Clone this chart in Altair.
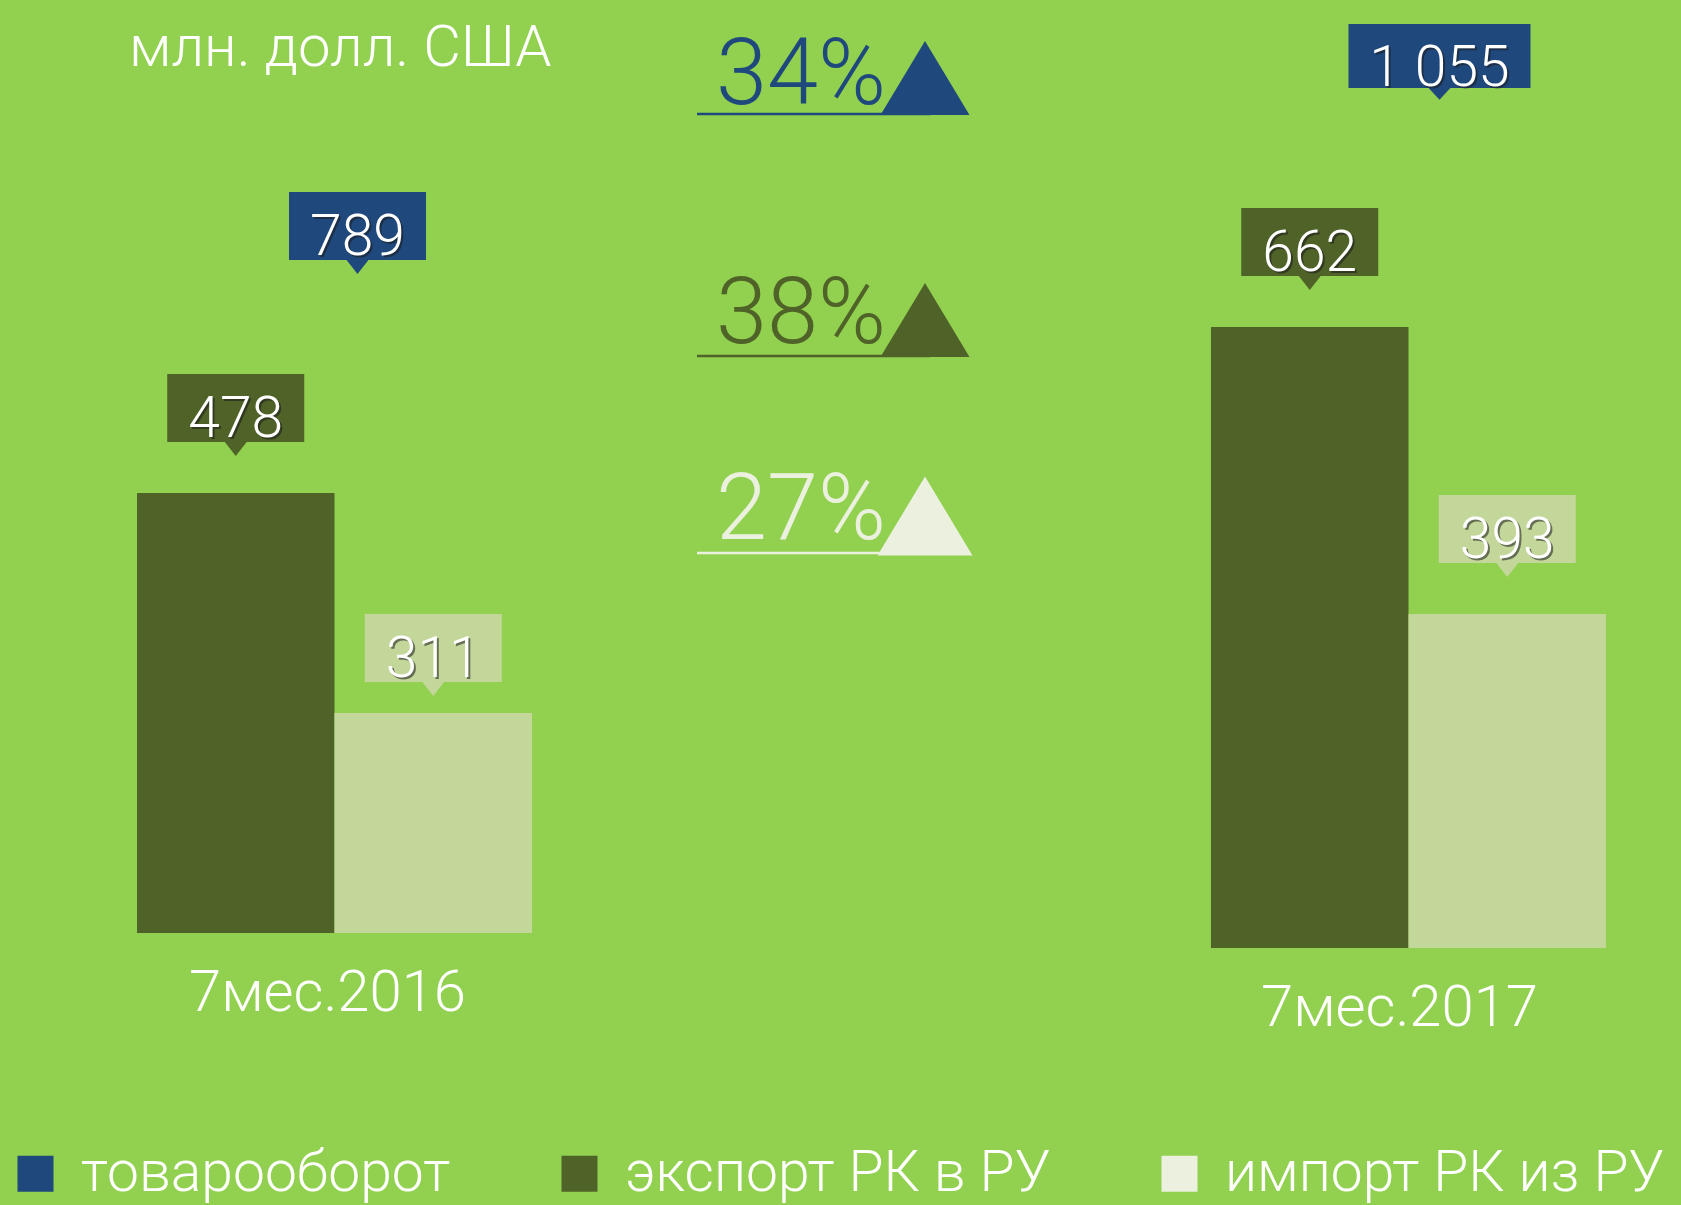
import altair as alt
import pandas as pd

# ---------------- data ----------------
groups = ["7мес.2016", "7мес.2017"]
series = ["товарооборот", "экспорт РК в РУ", "импорт РК из РУ"]
export_vals = [478, 662]
import_vals = [311, 393]
total_vals = [789, 1055]
growth_pct = [34, 38, 27]
unit_title = "млн. долл. США"

# ---------------- style ----------------
BG = "#92D050"
BLUE = "#1F497D"
DARK = "#4F6228"
LIGHT_BAR = "#C4D79B"
LIGHT = "#EBF1DE"
FONT = "Roboto"
W, H = 1681, 1205


def fmt(v):
    return f"{v:,}".replace(",", " ")


rows = []
for g, e, i in zip(groups, export_vals, import_vals):
    rows.append({"group": g, "series": series[1], "value": e, "label": fmt(e)})
    rows.append({"group": g, "series": series[2], "value": i, "label": fmt(i)})
bars_df = pd.DataFrame(rows)
totals_df = pd.DataFrame({"group": groups, "series": series[0], "value": total_vals,
                          "label": [fmt(v) for v in total_vals]})
pct_df = pd.DataFrame({"series": series, "pct": growth_pct,
                       "label": [f"{p}%" for p in growth_pct]})

x_scale = alt.Scale(domain=groups, range=[137, 1606], paddingInner=0.6322, paddingOuter=0)
xoff_scale = alt.Scale(domain=series[1:], paddingInner=0, paddingOuter=0)
fill_scale = alt.Scale(domain=series, range=[BLUE, DARK, LIGHT_BAR])
color_scale = alt.Scale(domain=series, range=[BLUE, DARK, LIGHT])

CALLOUT = "M-1,-1.737 L1,-1.737 L1,-0.745 L0.16,-0.745 L0,-0.54 L-0.16,-0.745 L-1,-0.745 Z"
TRI = "M0,-0.83 L1,0.83 L-1,0.83 Z"


def box_path(half_h, tip, tip_w):
    return (f"M-1,-{half_h} L1,-{half_h} L1,{half_h} L{tip_w},{half_h} L0,{tip} "
            f"L-{tip_w},{half_h} L-1,{half_h} Z")


def group_layer(g, y_dom, base, label_y, label_dx, total_cy, total_base, total_dx,
                total_w, total_path, shifts):
    d_all = bars_df[bars_df["group"] == g]
    t = totals_df[totals_df["group"] == g]
    ys = alt.Scale(domain=y_dom, nice=False, zero=False)
    X = alt.X("group:N", scale=x_scale, axis=None)
    XO = alt.XOffset("series:N", scale=xoff_scale)
    Y = alt.Y("value:Q", scale=ys, axis=None)
    F = alt.Fill("series:N", scale=fill_scale, legend=None)

    layers = [alt.Chart(d_all).mark_bar(opacity=1).encode(
        x=X, xOffset=XO, y=Y, y2=alt.datum(base), fill=F)]
    for s, sh in zip(series[1:], shifts):
        d = d_all[d_all["series"] == s]
        layers.append(alt.Chart(d).mark_point(shape=CALLOUT, size=137 * 137, filled=True,
                                              opacity=1, strokeWidth=0, yOffset=sh).encode(
            x=X, xOffset=XO, y=Y, fill=F))
        layers.append(alt.Chart(d).mark_text(dx=2, dy=-54 + sh, baseline="alphabetic",
                                             fontSize=57, font=FONT, fontWeight=300,
                                             color="#1a1a1a", opacity=0.55).encode(
            x=X, xOffset=XO, y=Y, text="label:N"))
        layers.append(alt.Chart(d).mark_text(dy=-56 + sh, baseline="alphabetic",
                                             fontSize=57, font=FONT, fontWeight=300,
                                             color="white").encode(
            x=X, xOffset=XO, y=Y, text="label:N"))
    layers.append(alt.Chart(t).mark_point(shape=total_path, size=total_w * total_w,
                                          filled=True, opacity=1, strokeWidth=0,
                                          xOffset=total_dx).encode(
        x=X, y=alt.value(total_cy), fill=F))
    layers.append(alt.Chart(t).mark_text(baseline="alphabetic", fontSize=57, font=FONT,
                                         fontWeight=300, color="#1a1a1a", opacity=0.55,
                                         xOffset=total_dx + 2).encode(
        x=X, y=alt.value(total_base + 2), text="label:N"))
    layers.append(alt.Chart(t).mark_text(baseline="alphabetic", fontSize=57, font=FONT,
                                         fontWeight=300, color="white",
                                         xOffset=total_dx).encode(
        x=X, y=alt.value(total_base), text="label:N"))
    layers.append(alt.Chart(t).mark_text(baseline="alphabetic", fontSize=58, font=FONT,
                                         fontWeight=300, color="white",
                                         xOffset=label_dx).encode(
        x=X, y=alt.value(label_y), text="group:N"))
    return alt.layer(*layers)


left = group_layer(groups[0], [-62.6, 852.3], 143.9, 1011, -7, 226, 255, 23, 137,
                   box_path(0.496, 0.70, 0.16), [0, 20])
right = group_layer(groups[1], [-161.0, 968.5], 79.9, 1026, -9, 56, 86, 31, 182,
                    box_path(0.352, 0.48, 0.12), [0, 0])

legend_def = alt.Legend(title=None, symbolType="square", orient="none", legendX=7,
                        legendY=1145, direction="horizontal", symbolSize=1296,
                        symbolStrokeWidth=0, labelFontSize=57, labelColor="white",
                        labelFont=FONT, labelFontWeight=300, labelLimit=0,
                        columnPadding=100, labelOffset=17, padding=0, symbolOpacity=1)

text_y = [104, 343, 539]
line_y = [114, 356, 553]
tri_y = [78, 320, 516]
tri_w = [89, 89, 95]
tris, rules, texts = [], [], []
for s, ty, ly, try_, tw in zip(series, text_y, line_y, tri_y, tri_w):
    src = alt.Chart(pct_df).transform_filter(alt.datum.series == s)
    tris.append(src.mark_point(shape=TRI, size=tw * tw, filled=True, opacity=1,
                               strokeWidth=0).encode(
        x=alt.value(925), y=alt.value(try_),
        color=alt.Color("series:N", scale=color_scale, legend=legend_def)))
    rules.append(src.mark_rule(strokeWidth=2.5).encode(
        x=alt.value(697), x2=alt.value(930), y=alt.value(ly),
        color=alt.Color("series:N", scale=color_scale, legend=None)))
    texts.append(src.mark_text(align="left", baseline="alphabetic", fontSize=92, font=FONT,
                               fontWeight=300).encode(
        x=alt.value(716), y=alt.value(ty), text="label:N",
        color=alt.Color("series:N", scale=color_scale, legend=None)))

title = alt.Chart(pd.DataFrame({"t": [unit_title]})).mark_text(
    align="left", baseline="alphabetic", fontSize=58, font=FONT, fontWeight=300,
    color="white").encode(x=alt.value(129), y=alt.value(66), text="t:N")

chart = alt.layer(*tris, left, right, *rules, *texts, title).resolve_scale(
    y="independent").properties(
    width=W, height=H, background=BG, padding=0,
    autosize=alt.AutoSizeParams(type="none"),
).configure_view(stroke=None)

chart.save("out.html", embed_options={"renderer": "svg", "actions": False})
